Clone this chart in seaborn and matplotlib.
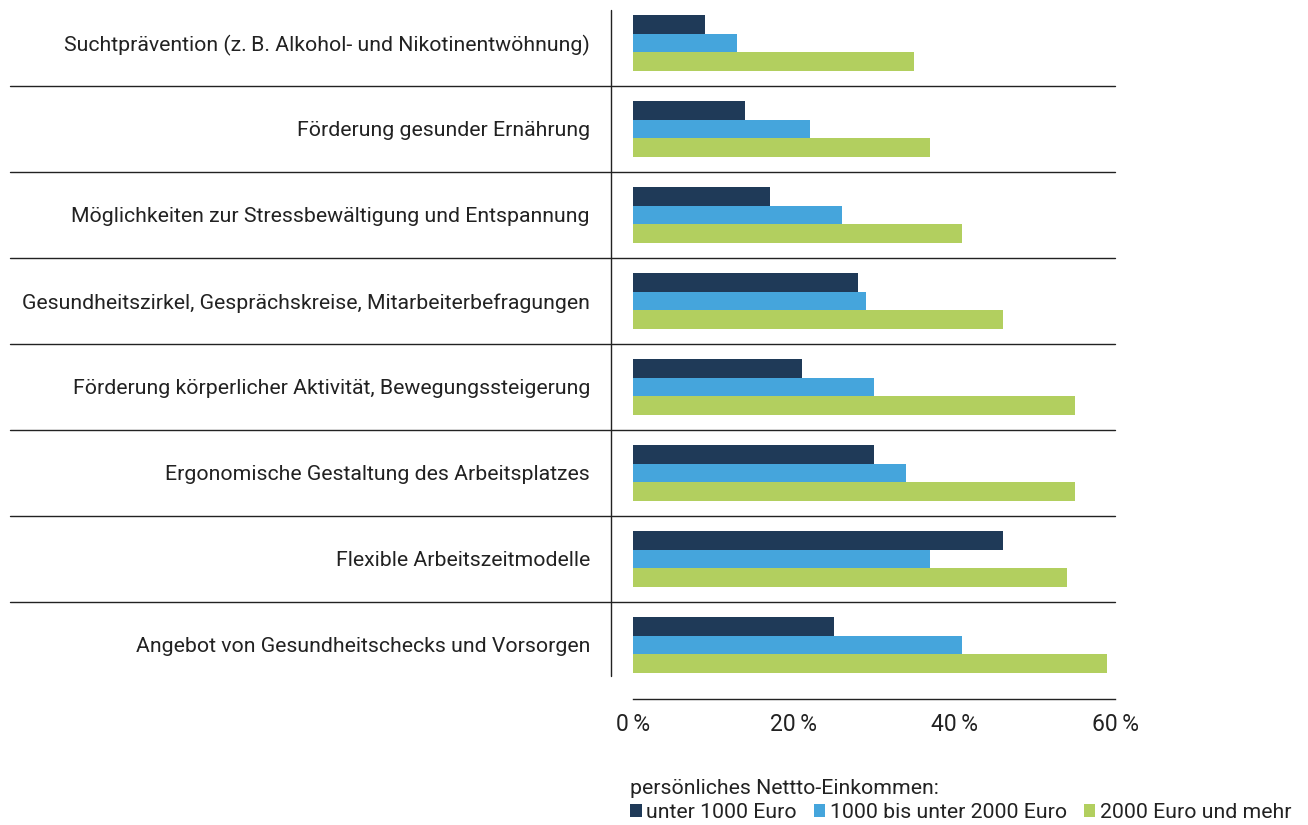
import numpy as np
import pandas as pd
import seaborn as sns
import matplotlib.pyplot as plt
from matplotlib.patches import Patch

categories = [
    "Suchtprävention (z.\u2009B. Alkohol- und Nikotinentwöhnung)",
    "Förderung gesunder Ernährung",
    "Möglichkeiten zur Stressbewältigung und Entspannung",
    "Gesundheitszirkel, Gesprächskreise, Mitarbeiterbefragungen",
    "Förderung körperlicher Aktivität, Bewegungssteigerung",
    "Ergonomische Gestaltung des Arbeitsplatzes",
    "Flexible Arbeitszeitmodelle",
    "Angebot von Gesundheitschecks und Vorsorgen",
]
groups = ["unter 1000 Euro", "1000 bis unter 2000 Euro", "2000 Euro und mehr"]
unter_1000 = [9, 14, 17, 28, 21, 30, 46, 25]
bis_2000 = [13, 22, 26, 29, 30, 34, 37, 41]
ab_2000 = [35, 37, 41, 46, 55, 55, 54, 59]
tick_values = [0, 20, 40, 60]
tick_labels = ["0\u2009%", "20\u2009%", "40\u2009%", "60\u2009%"]
legend_title = "persönliches Nettto-Einkommen:"
colors = ["#1f3a58", "#45a5dc", "#b2cf5f"]

df = pd.DataFrame({
    "kategorie": categories * 3,
    "gruppe": np.repeat(groups, len(categories)),
    "wert": unter_1000 + bis_2000 + ab_2000,
})

sns.set_style("white")
plt.rcParams['font.family'] = ['Roboto', 'DejaVu Sans']
text_col = "#222222"

W, H = 1308, 825
fig = plt.figure(figsize=(W / 100, H / 100), dpi=100)
ax_l, ax_r, ax_t, ax_b = 633, 1115, 0, 688
ax = fig.add_axes([ax_l / W, 1 - ax_b / H, (ax_r - ax_l) / W, (ax_b - ax_t) / H])

sns.barplot(data=df, y="kategorie", x="wert", hue="gruppe", order=categories,
            hue_order=groups, palette=colors, width=0.66, orient="h",
            saturation=1, linewidth=0, ax=ax, legend=False)

ax.set_xlim(0, 60)
ax.set_ylim(len(categories) - 0.5, -0.5)
ax.set_xlabel("")
ax.set_ylabel("")

for s in ["top", "right", "left"]:
    ax.spines[s].set_visible(False)
ax.spines["bottom"].set_position(("outward", 8))
ax.spines["bottom"].set_color(text_col)
ax.spines["bottom"].set_linewidth(1.0)

ax.set_xticks(tick_values)
ax.set_xticklabels(tick_labels)
ax.tick_params(axis="x", direction="inout", length=4, width=1, colors=text_col,
               labelsize=16.5, pad=8, labelcolor=text_col)
ax.tick_params(axis="y", length=0, pad=31, labelsize=15.3, labelcolor=text_col)

# separator lines between categories, reaching into the label area
px = ax_r - ax_l
x_start = (10 - ax_l) / px
for i in range(len(categories) - 1):
    ax.plot([x_start, 1], [i + 0.5, i + 0.5], color=text_col, lw=1.0,
            transform=ax.get_yaxis_transform(), clip_on=False)

# vertical line left of bars
vx = (611 - ax_l) / px
ax.plot([vx, vx], [1 - 10 / 688, 1 - 676 / 688], color=text_col, lw=1.0,
        transform=ax.transAxes, clip_on=False)

handles = [Patch(facecolor=c, edgecolor="none") for c in colors]
leg = fig.legend(handles, groups, loc="lower left", bbox_to_anchor=(630 / W, 0.004),
                 ncol=3, frameon=False, title=legend_title, alignment="left",
                 fontsize=15.3, title_fontsize=15.3, handlelength=0.55, handleheight=0.55,
                 handletextpad=0.2, columnspacing=0.8, borderpad=0.0, borderaxespad=0.0,
                 labelspacing=0.2)
for t in leg.get_texts():
    t.set_color(text_col)
leg.get_title().set_color(text_col)

fig.savefig("out.png", dpi=100)
